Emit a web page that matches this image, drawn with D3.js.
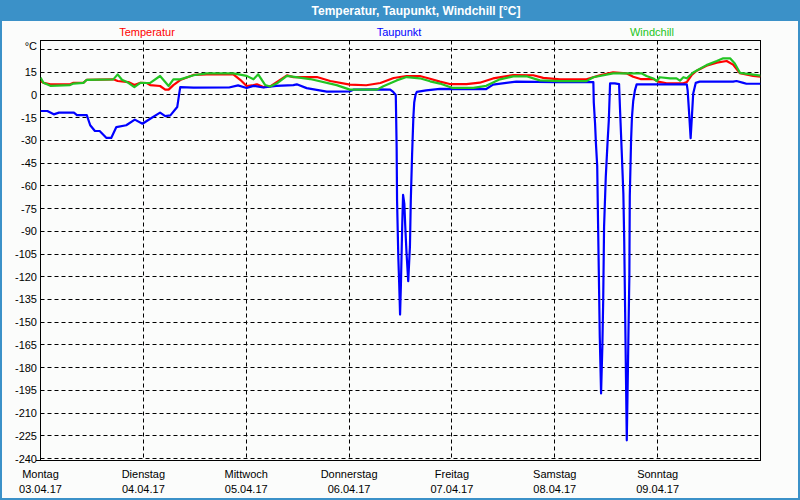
<!DOCTYPE html>
<html>
<head>
<meta charset="utf-8">
<script src="https://cdn.jsdelivr.net/npm/d3@7"></script>
<style>
  html, body { margin: 0; padding: 0; background: #ffffff; }
  svg { display: block; }
  text { font-family: "Liberation Sans", Arial, sans-serif; }
</style>
</head>
<body>
<svg id="chart" width="800" height="500"></svg>
<script>
// ---------- DATA ----------
const chartTitle = "Temperatur, Taupunkt, Windchill [°C]";
const seriesNames = ["Temperatur", "Taupunkt", "Windchill"];
const dayNames = ["Montag", "Dienstag", "Mittwoch", "Donnerstag", "Freitag", "Samstag", "Sonntag"];
const dayDates = ["03.04.17", "04.04.17", "05.04.17", "06.04.17", "07.04.17", "08.04.17", "09.04.17"];
const yTickValues = [30, 15, 0, -15, -30, -45, -60, -75, -90, -105, -120, -135, -150, -165, -180, -195, -210, -225, -240];
const yTickLabels = ["°C", "15", "0", "-15", "-30", "-45", "-60", "-75", "-90", "-105", "-120", "-135", "-150", "-165", "-180", "-195", "-210", "-225", "-240"];

// time in hours since Monday 03.04.17 00:00
const temperaturHours = [0, 0.7, 2.3, 6.9, 7.7, 10, 10.8, 17, 18, 20.5, 21.9, 23.3, 24.8, 25.6, 27.9, 29.1, 29.9, 31, 32.6, 35.7, 38.8, 45, 46.6, 48.1, 49.7, 50.5, 52, 53.6, 57.5, 59, 64.5, 67.6, 72.2, 76, 79.3, 82.4, 85.4, 88.5, 90.9, 93.2, 95.5, 99.4, 102.5, 105.6, 110.3, 115, 117.3, 121.2, 127.4, 130.5, 133.6, 136.7, 138.3, 140, 143, 144.1, 146.1, 150, 150.8, 151.9, 153.1, 155.4, 157.8, 160.1, 161.6, 163.2, 166.3, 168];
const temperaturValues = [9.2, 8, 7, 7, 8, 8, 10, 10.3, 9.2, 8.5, 6.5, 8, 7.9, 6.5, 5.9, 3.5, 3.5, 6.5, 9.8, 13.2, 13.6, 13.6, 10, 5.9, 6.5, 7, 5.2, 5.7, 12.9, 11.8, 11.8, 9.2, 6.8, 6.4, 7.9, 11.2, 12.5, 12.5, 10.7, 8.8, 7.2, 7.2, 8.1, 10.9, 13.1, 13, 11.3, 10.3, 10.3, 13, 14.9, 14.3, 12, 10.5, 10.5, 8.8, 7.7, 7.7, 8.5, 13, 16, 19.3, 21.3, 22.4, 20, 14.3, 12.5, 12];

const taupunktHours = [0, 1.6, 3.1, 4.3, 7.8, 8.5, 10.8, 11.6, 12.7, 13.8, 15.4, 16.5, 17.7, 20, 22, 23.8, 25.6, 27.9, 29.1, 30.3, 31.9, 32.6, 35.7, 44, 46.1, 48.1, 49.7, 52, 55, 59, 59.8, 62.1, 66.8, 72.2, 73, 78.5, 81.6, 82.3, 82.9, 83.1, 83.2, 83.5, 83.7, 83.9, 84.1, 84.4, 84.6, 84.9, 85.1, 85.4, 85.8, 86.2, 86.4, 86.7, 87, 87.2, 87.5, 87.8, 90, 93.2, 104, 105.6, 111, 120.5, 129, 129.1, 129.4, 129.6, 129.9, 130.1, 130.3, 130.5, 130.8, 131.1, 131.3, 131.5, 131.9, 132.3, 132.6, 132.9, 134, 135, 135.2, 135.6, 136, 136.2, 136.4, 136.6, 136.8, 137.1, 137.2, 137.4, 137.5, 137.8, 138, 138.3, 138.7, 139.1, 140, 150.8, 151, 151.3, 151.7, 152, 152.3, 152.9, 153.8, 161.6, 162.4, 164, 164.7, 168];
const taupunktValues = [-10.6, -10.6, -12.8, -11.7, -11.7, -13.3, -13.3, -20, -23.8, -23.8, -28.4, -28.4, -21.2, -20, -16.3, -19, -15.7, -11.7, -14, -13.5, -8, 5.2, 4.8, 4.9, 6.3, 4.6, 6, 4.9, 6, 6.5, 7, 4.5, 2.2, 2.4, 3.5, 3.7, 3.5, 2, 0, -35, -70, -108, -125, -145, -125, -86, -66, -72, -86, -104, -123, -100, -70, -40, -15, -5, 0, 2, 3, 4, 3.9, 6.8, 8.8, 8.4, 8.4, -5, -19, -32, -47, -85, -122, -160, -197, -166, -135, -87, -54, -32, -17, 7.6, 7.6, 7.2, -8, -36, -65, -96, -140, -184, -228, -175, -155, -120, -67, -30, -15, -4, 3, 7, 7, 7, 3, -10, -28.6, -14, 1, 8, 8.8, 8.8, 9.2, 8, 7.4, 7.4];

const windchillHours = [0, 0.7, 2.3, 6.9, 7.7, 10, 10.8, 17, 18, 19, 20.5, 21.9, 23.3, 24.8, 25.6, 27.9, 29.9, 31, 32.6, 35.7, 38.8, 45, 48.1, 49.7, 50.8, 52.4, 53.6, 55.1, 57.5, 62.9, 69.1, 72.2, 78.5, 80, 83.1, 85.4, 88.5, 90.9, 93.2, 96, 101, 104, 107.2, 110.3, 113.4, 116.5, 121.2, 127.4, 129, 133.6, 137.5, 140.2, 141.4, 143, 143.8, 144.5, 146.9, 148.4, 149.2, 150, 150.8, 152.3, 155.4, 157.8, 159.3, 160.9, 162, 163.2, 166.3, 168];
const windchillValues = [11.4, 8, 6, 6.5, 7.5, 8, 10, 10.3, 13.6, 10, 8, 5.2, 8, 7.9, 8, 12.5, 5.9, 10.3, 10.3, 13, 14.2, 14.2, 12.6, 10.3, 13.6, 6.6, 5.6, 7.5, 12.6, 10.5, 6.5, 3.5, 3.5, 5.7, 9.6, 11.8, 11, 9, 7.5, 4.7, 4.7, 6, 10.3, 12.3, 12.3, 9.6, 9.1, 9.1, 11.7, 14.2, 14.3, 14.3, 12.5, 10.9, 9.2, 11.7, 10.9, 10.9, 9.4, 11.7, 11, 14.8, 19.7, 22.4, 24.2, 24.2, 20.7, 14.6, 13.4, 12.7];

const seriesColors = ["#ff0000", "#0000ff", "#22c422"];

// ---------- CHART ----------
const W = 800, H = 500;
const plotLeft = 40.5, plotRight = 760.5, plotTop = 40.5, plotBottom = 460.5;
const svg = d3.select("#chart");

svg.append("rect").attr("x", 0).attr("y", 0).attr("width", W).attr("height", H).attr("fill", "#fbfcfb");
svg.append("rect").attr("x", 0).attr("y", 0).attr("width", W).attr("height", 21).attr("fill", "#3b91c8");
svg.append("rect").attr("x", 1).attr("y", 1).attr("width", W - 2).attr("height", H - 2)
  .attr("fill", "none").attr("stroke", "#3b91c8").attr("stroke-width", 2);

svg.append("text").attr("x", 416).attr("y", 15).attr("text-anchor", "middle")
  .attr("fill", "#ffffff").attr("font-weight", "bold").attr("font-size", "12px").text(chartTitle);

const x = d3.scaleLinear().domain([0, 168]).range([plotLeft, plotRight]);
const y = d3.scaleLinear().domain([-240, 30]).range([458.5, 49.5]);

// gridlines horizontal
const gy = svg.append("g");
yTickValues.forEach(v => {
  const yy = Math.round(y(v) - 0.5) + 0.5;
  gy.append("line").attr("x1", plotLeft).attr("x2", plotRight).attr("y1", yy).attr("y2", yy)
    .attr("stroke", "#000").attr("stroke-width", 1).attr("stroke-dasharray", "4,3");
});
// gridlines vertical
const dayTicks = d3.range(0, 7).map(d => d * 24);
dayTicks.slice(1).forEach(h => {
  const xx = Math.round(x(h) - 0.5) + 0.5;
  gy.append("line").attr("x1", xx).attr("x2", xx).attr("y1", plotTop).attr("y2", plotBottom)
    .attr("stroke", "#000").attr("stroke-width", 1).attr("stroke-dasharray", "4,3");
});

// frame
svg.append("rect").attr("x", plotLeft).attr("y", plotTop).attr("width", plotRight - plotLeft)
  .attr("height", plotBottom - plotTop).attr("fill", "none").attr("stroke", "#000").attr("stroke-width", 1);
svg.append("line").attr("x1", 36).attr("x2", plotLeft).attr("y1", plotBottom).attr("y2", plotBottom)
  .attr("stroke", "#000");

// y labels
yTickValues.forEach((v, i) => {
  const yy = y(v);
  svg.append("text").attr("x", 37).attr("y", i === 0 ? yy + 0.5 : yy + 4)
    .attr("text-anchor", "end").attr("font-size", "11px").attr("fill", "#000").text(yTickLabels[i]);
});

// x labels
dayTicks.forEach((h, i) => {
  svg.append("text").attr("x", x(h)).attr("y", 478).attr("text-anchor", "middle")
    .attr("font-size", "11px").attr("fill", "#000").text(dayNames[i]);
  svg.append("text").attr("x", x(h)).attr("y", 493).attr("text-anchor", "middle")
    .attr("font-size", "11px").attr("fill", "#000").text(dayDates[i]);
});

// legend
const legendX = [147, 399, 652];
seriesNames.forEach((n, i) => {
  svg.append("text").attr("x", legendX[i]).attr("y", 36).attr("text-anchor", "middle")
    .attr("font-size", "11px").attr("fill", seriesColors[i]).text(n);
});

// lines
const line = d3.line().x(d => x(d[0])).y(d => y(d[1]));
const clip = svg.append("clipPath").attr("id", "clip").append("rect")
  .attr("x", plotLeft).attr("y", plotTop).attr("width", plotRight - plotLeft).attr("height", plotBottom - plotTop);

const series = [
  { hours: temperaturHours, values: temperaturValues, color: seriesColors[0] },
  { hours: taupunktHours, values: taupunktValues, color: seriesColors[1] },
  { hours: windchillHours, values: windchillValues, color: seriesColors[2] }
];
const lg = svg.append("g").attr("clip-path", "url(#clip)");
series.forEach(s => {
  const pts = s.hours.map((h, i) => [h, s.values[i]]);
  lg.append("path").datum(pts).attr("d", line).attr("fill", "none")
    .attr("stroke", s.color).attr("stroke-width", 2.2).attr("stroke-linejoin", "round");
});
</script>
</body>
</html>
